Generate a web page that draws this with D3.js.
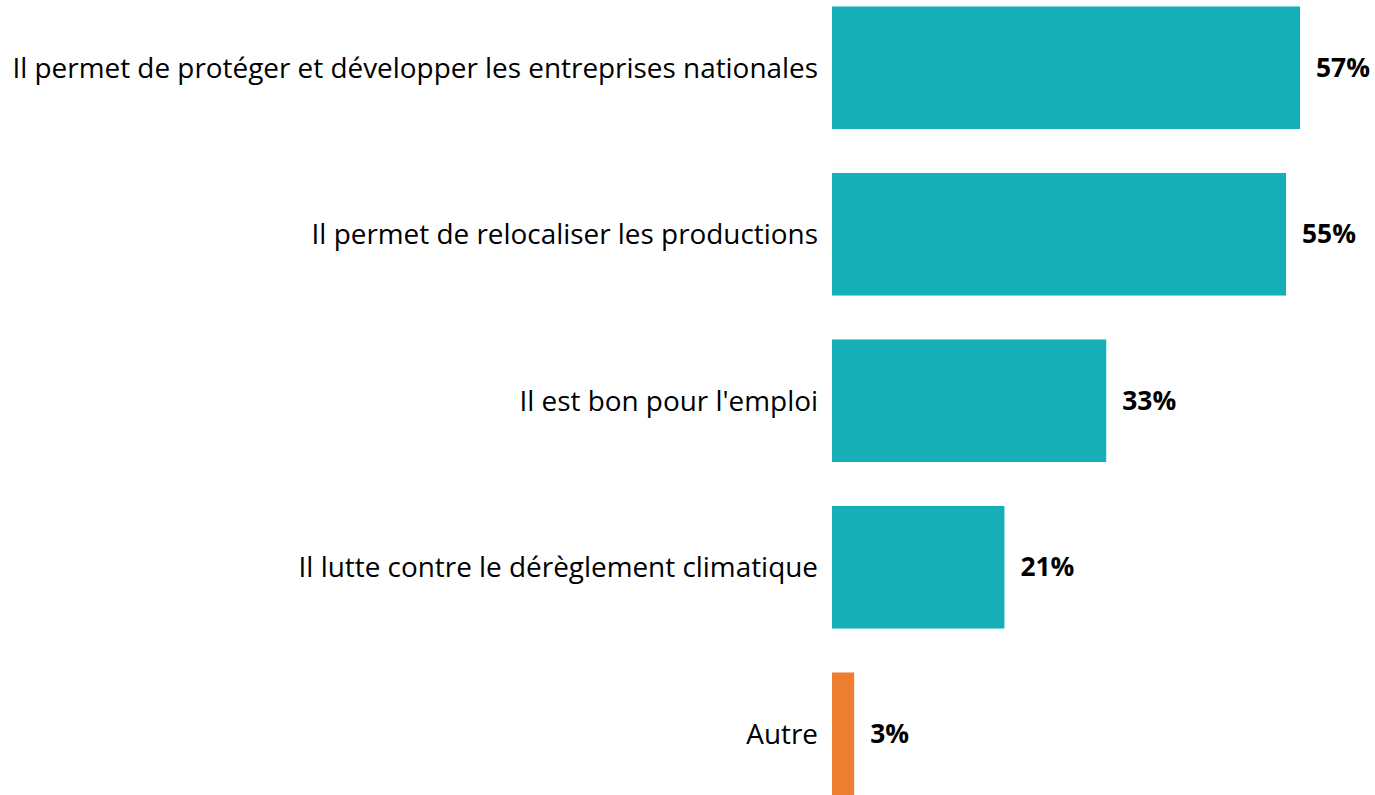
<!DOCTYPE html>
<html>
<head>
<meta charset="utf-8">
<script src="https://cdn.jsdelivr.net/npm/d3@7"></script>
<style>
  body { margin: 0; background: #fff; }
  svg text { font-family: "Open Sans", Lato, sans-serif; }
</style>
</head>
<body>
<div id="chart"></div>
<script>
var categories = [
    "Il permet de protéger et développer les entreprises nationales",
    "Il permet de relocaliser les productions",
    "Il est bon pour l'emploi",
    "Il lutte contre le dérèglement climatique",
    "Autre"
];
// bar lengths as measured; labels are the rounded percentages
var values = [57.0, 55.3, 33.4, 21.0, 2.7];
var barColors = ["#14afb7", "#14afb7", "#14afb7", "#14afb7", "#ed7d31"];

var width = 1375,
    height = 795;

var svg = d3.select("#chart")
    .append("svg")
    .attr("width", width)
    .attr("height", height);

var x0 = 832;

var x = d3.scaleLinear()
    .domain([0, 57])
    .range([x0, 1300]);

var y = d3.scaleBand()
    .domain(categories)
    .range([-15.5, 817])
    .paddingInner(0.264)
    .paddingOuter(0.132);

var fmt = d3.format(".0f");

var data = categories.map(function (c, i) {
    return { cat: c, val: values[i], color: barColors[i] };
});

svg.selectAll(".bar")
    .data(data)
    .enter().append("rect")
    .attr("class", "bar")
    .attr("x", x(0))
    .attr("y", function (d) { return y(d.cat); })
    .attr("width", function (d) { return x(d.val) - x(0); })
    .attr("height", y.bandwidth())
    .style("fill", function (d) { return d.color; });

// category labels on the left
svg.selectAll(".cat")
    .data(data)
    .enter().append("text")
    .attr("class", "cat")
    .attr("x", x0 - 14)
    .attr("y", function (d) { return y(d.cat) + y.bandwidth() / 2; })
    .attr("dy", "0.35em")
    .attr("text-anchor", "end")
    .style("font-size", "27.9px")
    .style("fill", "#000")
    .text(function (d) { return d.cat; });

// value labels
svg.selectAll(".val")
    .data(data)
    .enter().append("text")
    .attr("class", "val")
    .attr("x", function (d) { return x(d.val) + 16; })
    .attr("y", function (d) { return y(d.cat) + y.bandwidth() / 2; })
    .attr("dy", "0.35em")
    .style("font-size", "26.4px")
    .style("font-weight", "bold")
    .style("fill", "#000")
    .text(function (d) { return fmt(d.val) + "%"; });
</script>
</body>
</html>
